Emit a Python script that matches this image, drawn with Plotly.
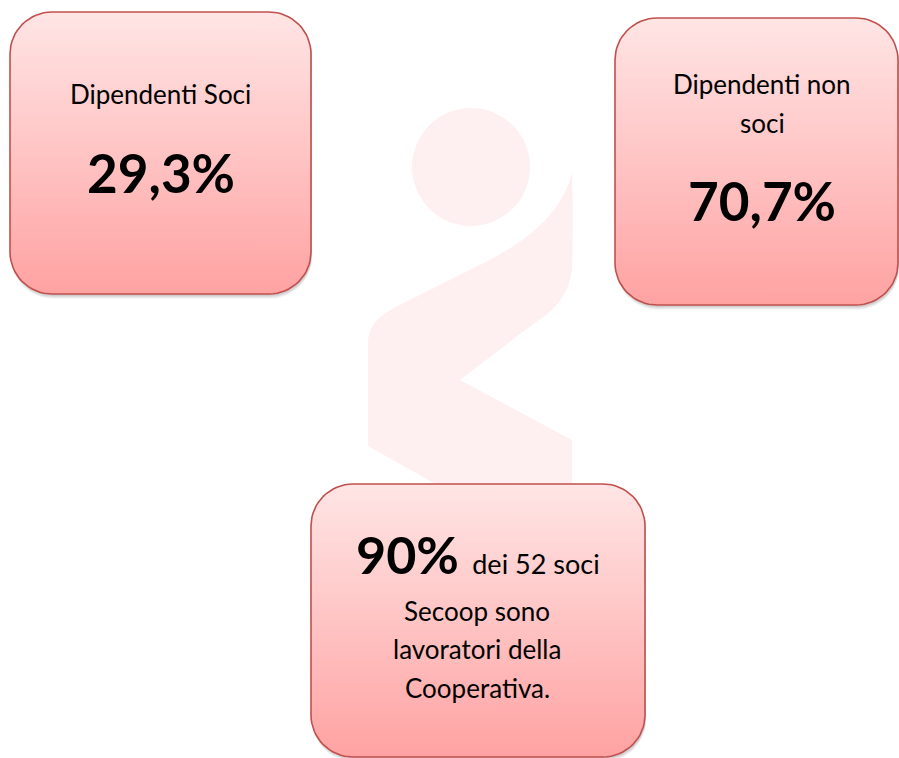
import math
import plotly.graph_objects as go

# ---- data ----
box_titles = ["Dipendenti Soci", "Dipendenti non soci"]
box_values = [29.3, 70.7]
soci_total = 52
pct_lavoratori = 90
bottom_lines = ["Secoop sono", "lavoratori della", "Cooperativa."]

W, H = 899, 758
FONT = "Lato, 'Open Sans', sans-serif"
BORDER = "rgb(192,80,77)"
GRAD = [[0, "rgb(255,229,229)"], [0.5, "rgb(255,196,196)"], [1, "rgb(255,162,162)"]]


def rounded_rect(x0, y0, x1, y1, r, n=16):
    xs, ys = [], []
    corners = [
        (x1 - r, y0 + r, -90, 0),
        (x1 - r, y1 - r, 0, 90),
        (x0 + r, y1 - r, 90, 180),
        (x0 + r, y0 + r, 180, 270),
    ]
    for cx, cy, a0, a1 in corners:
        for i in range(n + 1):
            a = math.radians(a0 + (a1 - a0) * i / n)
            xs.append(cx + r * math.cos(a))
            ys.append(cy + r * math.sin(a))
    xs.append(xs[0])
    ys.append(ys[0])
    return xs, ys


fig = go.Figure()

boxes = [
    (10, 12, 311, 294),
    (615, 18, 898, 305),
    (311, 484, 645, 757),
]

# soft shadows
for (x0, y0, x1, y1) in boxes:
    for k, op in [(5, 0.05), (4, 0.07), (3, 0.09), (2, 0.10)]:
        sx, sy = rounded_rect(x0 + 1, y0 + k, x1 + 1, y1 + k, 42)
        fig.add_trace(go.Scatter(x=sx, y=sy, mode="lines", fill="toself",
                                 fillcolor=f"rgba(90,90,90,{op})",
                                 line=dict(width=0), hoverinfo="skip",
                                 showlegend=False))

for (x0, y0, x1, y1) in boxes:
    bx, by = rounded_rect(x0, y0, x1, y1, 42)
    fig.add_trace(go.Scatter(
        x=bx, y=by, mode="lines", fill="toself",
        fillgradient=dict(type="vertical", colorscale=GRAD, start=y0, stop=y1),
        line=dict(color=BORDER, width=1.6), hoverinfo="skip", showlegend=False))

# watermark logo
wm = "rgb(254,240,241)"
shapes = [
    dict(type="circle", xref="x", yref="y", x0=412, x1=530, y0=108, y1=226,
         fillcolor=wm, line=dict(width=0), layer="below"),
    dict(type="path", xref="x", yref="y", layer="below", fillcolor=wm,
         line=dict(width=0),
         path=("M 572 173 C 573 205, 573 240, 572 268 "
               "C 570 292, 556 310, 536 322 L 460 380 L 572 440 L 572 495 "
               "L 455 495 L 368 446 L 368 342 "
               "C 368 327, 378 316, 396 307 L 482 264 "
               "C 530 240, 562 212, 572 173 Z")),
]

fmt = lambda v: f"{v:.1f}".replace(".", ",") + "%"

REG = 26
BIG = 53

ann = []
def txt(x, y, s, size, bold=False):
    ann.append(dict(x=x, y=y, xref="x", yref="y", text=(f"<b>{s}</b>" if bold else s),
                    showarrow=False, xanchor="center", yanchor="middle",
                    font=dict(family=FONT, size=size, color="black")))

txt(160, 94, box_titles[0], REG)
txt(161, 172, fmt(box_values[0]), BIG, True)

t1 = box_titles[1].split(" ")
txt(762, 84, " ".join(t1[:2]), REG)
txt(762, 123, " ".join(t1[2:]), REG)
txt(762, 200, fmt(box_values[1]), BIG, True)

ann.append(dict(x=478, y=554, xref="x", yref="y",
                text=f"<b>{pct_lavoratori}%</b> <span style='font-size:{REG + 1}px'>dei {soci_total} soci</span>",
                showarrow=False, xanchor="center", yanchor="middle",
                font=dict(family=FONT, size=BIG - 1, color="black")))
for s, y in zip(bottom_lines, [611, 649, 688]):
    txt(477, y, s, REG)

fig.update_layout(
    width=W, height=H, margin=dict(l=0, r=0, t=0, b=0),
    paper_bgcolor="white", plot_bgcolor="white",
    xaxis=dict(range=[0, W], visible=False, fixedrange=True),
    yaxis=dict(range=[H, 0], visible=False, fixedrange=True),
    shapes=shapes, annotations=ann, showlegend=False,
)
fig.write_html("out.html", config={"displayModeBar": False},
               post_script="document.body.style.margin='0';document.body.style.overflow='hidden';")
